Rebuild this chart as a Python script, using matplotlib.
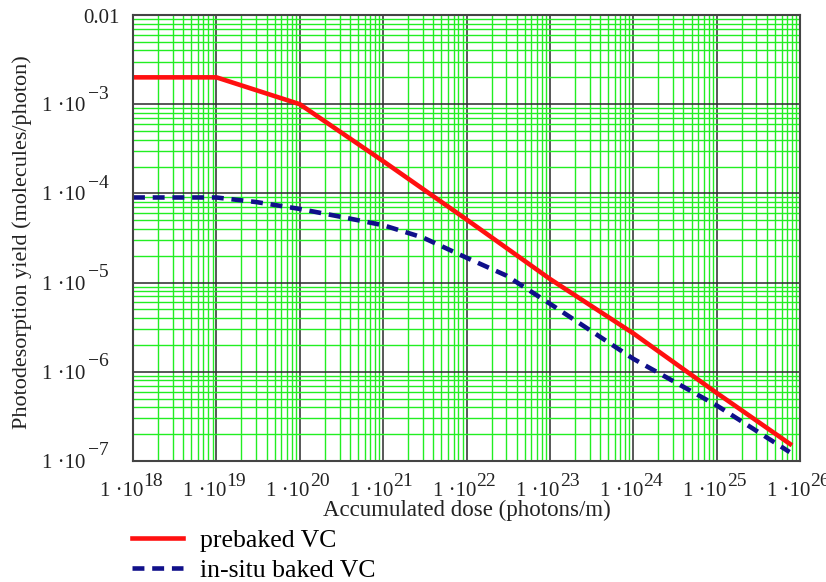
import numpy as np
import matplotlib.pyplot as plt
from matplotlib.lines import Line2D
from matplotlib.transforms import offset_copy

plt.rcParams['font.family'] = 'Liberation Serif'

# dose (photons/m) and yields
dose_pre = [1e18, 1e19, 1e20, 1e21, 1e22, 1e23, 1e24, 1e25, 7.6e25]
yield_pre = [2e-3, 2e-3, 1.0e-3, 2.3e-4, 5.1e-5, 1.1e-5, 2.7e-6, 5.8e-7, 1.55e-7]

dose_insitu = [1e18, 1e19, 3e19, 1e20, 3e20, 1e21, 3e21, 1e22, 3e22, 1e23, 1e24, 1e25, 7.5e25]
yield_insitu = [9e-5, 9e-5, 8e-5, 6.7e-5, 5.5e-5, 4.4e-5, 3.2e-5, 1.9e-5, 1.2e-5, 5.8e-6, 1.4e-6, 4.2e-7, 1.26e-7]

x_exp = list(range(18, 27))
y_exp = list(range(-7, -2))

RED = '#ff1010'
BLUE = '#10108a'
TXT = '#222222'

fig = plt.figure(figsize=(8.26, 5.82), dpi=100)
ax = fig.add_axes([133/826, 1 - 461/582, 667/826, 446/582])

ax.set_xscale('log')
ax.set_yscale('log')
ax.set_xlim(1e18, 1e26)
ax.set_ylim(1e-7, 1e-2)

ax.grid(True, which='minor', color='#22ee22', lw=1.0)
ax.grid(True, which='major', color='#2a2a2a', lw=1.1)
ax.set_axisbelow(True)

ax.plot(dose_pre, yield_pre, color=RED, lw=3.3)
ax.plot(dose_insitu, yield_insitu, color=BLUE, lw=3.3, ls=(0, (2.6, 1.7)))

ax.set_xticks([10.0**k for k in x_exp])
ax.set_yticks([10.0**k for k in y_exp] + [1e-2])
ax.tick_params(which='both', length=0, labelbottom=False, labelleft=False)

for s in ax.spines.values():
    s.set_color('#444444')
    s.set_linewidth(1.5)

# MathCad-style tick labels: "1 ·10" with a big raised exponent
xt = ax.get_xaxis_transform()
for k in x_exp:
    ax.text(10.0**k, 0, '1 ·10', transform=offset_copy(xt, fig, x=10, y=-30, units='dots'),
            ha='right', va='center', fontsize=15, color=TXT, clip_on=False)
    ax.text(10.0**k, 0, str(k), transform=offset_copy(xt, fig, x=10, y=-20, units='dots'),
            ha='left', va='center', fontsize=14, color=TXT, clip_on=False)

yt = ax.get_yaxis_transform()
for k in y_exp:
    ax.text(0, 10.0**k, '1 ·10', transform=offset_copy(yt, fig, x=-48, y=-2.5, units='dots'),
            ha='right', va='center', fontsize=15, color=TXT, clip_on=False)
    ax.text(0, 10.0**k, '\u2212%d' % -k, transform=offset_copy(yt, fig, x=-45, y=10, units='dots'),
            ha='left', va='center', fontsize=14, color=TXT, clip_on=False)
ax.text(0, 1e-2, '0.01', transform=offset_copy(yt, fig, x=-13, y=-3.5, units='dots'),
        ha='right', va='center', fontsize=15, color=TXT, clip_on=False)

fig.text(466.5/826, 1 - 510/582, 'Accumulated dose (photons/m)', ha='center', va='center',
         fontsize=16.5, color=TXT)
fig.text(22/826, 1 - 242/582, 'Photodesorption yield (molecules/photon)', ha='center',
         va='center', rotation=90, fontsize=16, color=TXT)

handles = [Line2D([], [], color=RED, lw=3.3),
           Line2D([], [], color=BLUE, lw=3.3, ls=(0, (2.6, 1.7)))]
fig.legend(handles, ['prebaked VC', 'in-situ baked VC'], loc='upper left',
           bbox_to_anchor=(132/826, 1 - 529/582), frameon=False, fontsize=18.5,
           handlelength=2.0, handletextpad=0.65, labelspacing=0.28,
           borderpad=0, borderaxespad=0)

fig.savefig('out.png', dpi=100)
